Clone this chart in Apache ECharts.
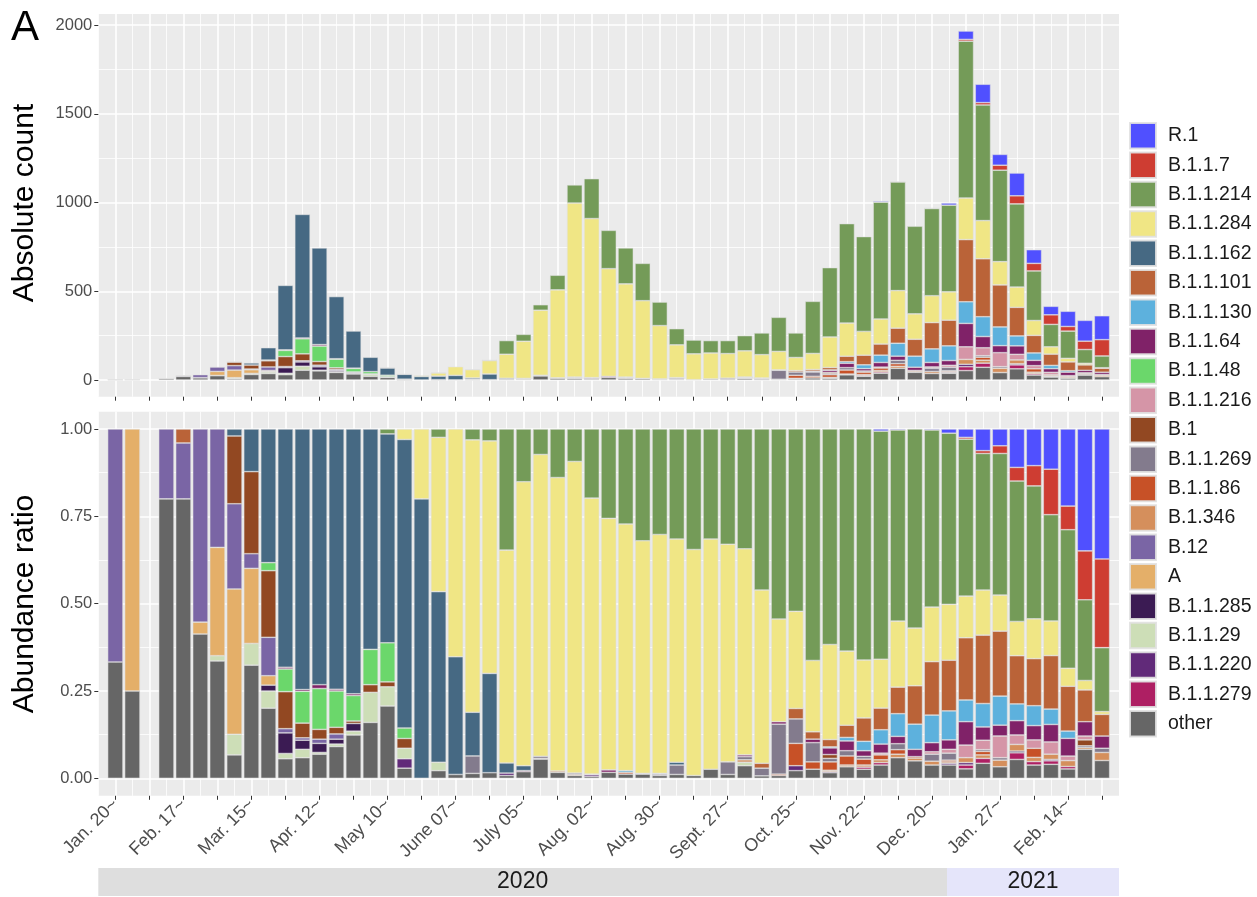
<!DOCTYPE html>
<html>
<head>
<meta charset="utf-8">
<script src="https://cdn.jsdelivr.net/npm/echarts@6/dist/echarts.min.js"></script>
</head>
<body style="margin:0;background:#ffffff">
<div id="main" style="width:1257px;height:897px"></div>
<script>
// weekly bars, Jan 20 2020 .. late Feb 2021 (week 2 has no samples)
var tickLabels = ['Jan. 20~', 'Feb. 17~', 'Mar. 15~', 'Apr. 12~', 'May 10~', 'June 07~', 'July 05~',
  'Aug. 02~', 'Aug. 30~', 'Sept. 27~', 'Oct. 25~', 'Nov. 22~', 'Dec. 20~', 'Jan. 27~', 'Feb. 14~'];

// total sequences per week (upper panel)
var totals = [3, 4, null, 10, 25, 30, 73, 103, 96, 182,
  533, 933, 744, 470, 276, 128, 69, 33, 25, 41,
  75, 60, 113, 222, 257, 424, 590, 1099, 1134, 843,
  744, 657, 439, 289, 225, 222, 222, 250, 265, 353,
  265, 443, 633, 881, 808, 1008, 1119, 866, 969, 997,
  1966, 1666, 1271, 1166, 734, 415, 387, 336, 362];

// share of each lineage per week, percent (lower panel)
var pOther = [33.3, 25, 0, 80, 80, 41.3, 33.6, 6.7, 32.4, 20.1,
  5.6, 5.9, 6.9, 9.1, 12.4, 16.0, 20.7, 2.9, 0, 2.2,
  1.1, 1.4, 1.6, 0.8, 1.9, 5.5, 1.7, 0.8, 0.5, 1.7,
  1.2, 1.2, 0.8, 1.1, 0.8, 2.6, 1.1, 3.6, 0.7, 0.8,
  2.2, 2.6, 1.6, 3.3, 2.6, 3.8, 5.9, 5.0, 3.8, 3.8,
  2.7, 4.3, 3.3, 5.4, 3.8, 4.0, 2.7, 8.3, 5.1];
var pB11279 = [0, 0, 0, 0, 0, 0, 0, 0, 0, 0,
  0, 0, 0, 0, 0, 0, 0, 0, 0, 0,
  0, 0, 0, 0, 0, 0, 0, 0, 0, 0,
  0, 0, 0, 0, 0, 0, 0, 0, 0, 0,
  0, 0, 0, 0, 0.6, 0.7, 0, 0, 0, 0,
  1.1, 1.4, 0, 1.9, 1.0, 1.0, 0.7, 0, 0];
var pB11220 = [0, 0, 0, 0, 0, 0, 0, 0, 0, 0,
  0, 0, 0, 0, 0, 0, 0, 2.7, 0, 0,
  0, 0, 0, 0.7, 0, 0, 0, 0, 0.5, 0,
  0, 0, 0, 0, 0, 0, 0, 0, 0, 0,
  1.4, 0, 0.3, 0, 0, 0, 0, 0, 0, 0.5,
  0.7, 0, 0, 0, 0, 0.4, 0, 0, 0];
var pB1129 = [0, 0, 0, 0, 0, 0, 1.5, 5.9, 6.2, 4.9,
  1.5, 2.4, 0.5, 0.7, 1.1, 8.6, 5.5, 3.0, 0, 2.4,
  0, 0, 0, 0, 0, 0, 0, 0, 0, 0,
  0, 0, 0, 0, 0, 0, 0, 1.0, 0, 0,
  0, 0, 0, 0, 0, 0, 0, 0, 0, 0,
  0, 0, 0, 0, 0, 0, 0, 0, 0];
var pB11285 = [0, 0, 0, 0, 0, 0, 0, 0, 0, 1.7,
  5.9, 2.6, 2.6, 1.4, 2.2, 0, 0, 0, 0, 0,
  0, 0, 0, 0, 0, 0, 0, 0, 0, 0,
  0, 0, 0, 0, 0, 0, 0, 0, 0, 0,
  0, 0, 0, 0, 0, 0, 0, 0, 0, 0,
  0, 0, 0, 0.5, 0, 0, 0, 0, 0];
var pA = [0, 75, 0, 0, 0, 3.4, 31, 41.6, 21.5, 2.7,
  0, 0, 0, 0, 0, 0, 0, 0, 0, 0,
  0, 0, 0, 0, 0, 0, 0, 0, 0, 0,
  0, 0, 0, 0, 0, 0, 0, 0, 0, 0,
  0, 0, 0, 0, 0, 0, 0, 0, 0, 0,
  0, 0, 0, 0, 0, 0, 0, 0, 0];
var pB12 = [66.7, 0, 0, 20, 16, 55.3, 33.9, 24.4, 4.2, 11.0,
  1.2, 0.7, 1.2, 1.5, 0, 0, 0, 0, 0, 0,
  0, 0, 0, 0, 0, 0, 0, 0, 0, 0,
  0, 0, 0, 0, 0, 0, 0, 0, 0, 0,
  0, 0, 0, 0, 0, 0, 0, 0, 0, 0,
  0, 0, 0, 0, 0, 0, 0, 0, 0];
var pB1346 = [0, 0, 0, 0, 0, 0, 0, 0, 0, 0,
  0, 0, 0, 0, 0, 0, 0, 0, 0, 0,
  0, 0, 0, 0, 0, 0.2, 0.4, 0.3, 0.2, 0,
  0, 0, 0, 0, 0, 0, 0, 0.7, 0, 0,
  0, 0, 0.4, 0.5, 0.6, 0.8, 1.0, 0.8, 1.1, 0.4,
  1.4, 1.0, 1.9, 1.9, 1.2, 1.5, 1.7, 0.5, 2.3];
var pB1186 = [0, 0, 0, 0, 0, 0, 0, 0, 0, 0,
  0, 0, 0, 0, 0, 0, 0, 0, 0, 0,
  0, 0, 0, 0, 0, 0, 0, 0, 0, 0,
  0.5, 0, 0, 0, 0, 0, 0, 0, 0, 0.4,
  6.4, 2.1, 2.4, 2.6, 1.7, 1.4, 1.3, 0.4, 0, 0.5,
  0, 1.0, 0, 0, 2.6, 0, 0, 0, 0];
var pB11269 = [0, 0, 0, 0, 0, 0, 0, 0, 0, 0,
  0, 0, 0, 0, 0, 0, 0, 0, 0, 0,
  0, 5.0, 0, 0, 0, 0.6, 0, 0.4, 0, 0,
  0, 0.2, 0.4, 2.7, 0, 0, 3.6, 0.9, 2.2, 14.3,
  7.0, 5.5, 1.0, 1.5, 0.8, 0, 1.7, 0, 2.0, 2.0,
  0, 0.5, 0.7, 0, 0, 0, 0, 0.5, 1.2];
var pB1 = [0, 0, 0, 0, 0, 0, 0, 19.4, 23.5, 19.1,
  10.6, 4.2, 2.8, 1.9, 0.7, 2.2, 1.4, 2.8, 0, 0,
  0, 0, 0, 0, 0, 0, 0, 0, 0, 0,
  0, 0, 0, 0, 0, 0, 0, 0, 0, 0,
  0, 0, 1.1, 0, 0, 0, 0, 0, 0, 0,
  0, 0, 0, 0, 0, 0, 0, 1.7, 0];
var pB11216 = [0, 0, 0, 0, 0, 0, 0, 0, 0, 0,
  0, 0, 0, 0, 0, 0, 0, 0, 0, 0,
  0, 0, 0, 0, 0, 0, 0, 0, 0, 0,
  0, 0, 0, 0, 0, 0, 0, 0, 0, 0,
  0, 0, 0, 0, 0, 0.5, 0, 0, 0.7, 1.1,
  3.6, 2.7, 6.2, 2.7, 2.4, 3.5, 1.3, 1.1, 0];
var pB1148 = [0, 0, 0, 0, 0, 0, 0, 0, 0, 2.3,
  6.5, 9.1, 11.7, 10.4, 7.3, 10.1, 11.2, 3.0, 0, 0,
  0, 0, 0, 0, 0, 0, 0, 0, 0, 0,
  0, 0, 0, 0, 0, 0, 0, 0, 0, 0,
  0, 0, 0, 0, 0, 0, 0, 0, 0, 0,
  0, 0, 0, 0, 0, 0, 0, 0, 0];
var pB1164 = [0, 0, 0, 0, 0, 0, 0, 0, 0, 0,
  0.5, 0.5, 1.1, 0.5, 0.5, 0, 0, 0, 0, 0,
  0, 0, 0, 0, 0.3, 0, 0, 0, 0, 0.7,
  0, 0, 0, 0, 0, 0, 0, 0.5, 0, 0.7,
  0, 1.0, 1.9, 2.8, 1.6, 2.6, 2.1, 2.1, 2.6, 2.7,
  6.7, 3.8, 3.1, 4.1, 4.1, 5.0, 5.1, 4.1, 3.5];
var pB11130 = [0, 0, 0, 0, 0, 0, 0, 0, 0, 0,
  0, 0, 0, 0, 0, 0, 0, 0, 0, 0,
  0, 0, 0, 0, 0, 0, 0, 0, 0, 0,
  0.5, 0, 0.2, 0, 0, 0, 0, 0, 0, 0,
  0, 0, 0.3, 1.0, 2.7, 4.1, 6.5, 7.2, 7.9, 8.3,
  6.2, 6.7, 8.3, 4.8, 5.7, 4.4, 2.1, 0, 0];
var pB11101 = [0, 0, 0, 0, 4, 0, 0, 0, 0, 0,
  0, 0, 0, 0, 0, 0, 0, 0, 0, 0,
  0, 0, 0, 0, 0, 0, 0, 0, 0, 0,
  0, 0, 0, 0, 0, 0, 0, 0, 1.4, 0,
  3.0, 2.1, 2.1, 3.5, 6.7, 6.2, 7.6, 11.0, 15.3, 14.5,
  17.8, 19.6, 18.6, 13.8, 13.5, 15.3, 12.9, 9.1, 6.2];
var pB11162 = [0, 0, 0, 0, 0, 0, 0, 2.0, 12.2, 38.3,
  68.2, 74.6, 73.2, 74.5, 75.8, 63.1, 59.8, 82.6, 80, 48.9,
  33.7, 12.5, 28.4, 2.9, 1.4, 0, 0, 0, 0, 0,
  0, 0, 0, 0.8, 0, 0, 0, 0, 0, 0,
  0, 0, 0, 0, 0, 0, 0, 0, 0, 0,
  0, 0, 0, 0, 0, 0, 0, 0, 0];
var pB11284 = [0, 0, 0, 0, 0, 0, 0, 0, 0, 0,
  0, 0, 0, 0, 0, 0, 0, 3.0, 20, 44.2,
  65.2, 78, 66.5, 61.0, 81.3, 86.4, 84.0, 89.2, 79.0, 72.0,
  70.6, 66.6, 68.4, 63.9, 64.7, 65.9, 62.3, 59.0, 49.6, 29.4,
  27.8, 20.4, 27.2, 21.2, 16.6, 14.0, 18.9, 16.5, 15.6, 16.0,
  11.9, 12.9, 10.3, 9.8, 11.4, 9.9, 5.2, 2.7, 0.8];
var pB11214 = [0, 0, 0, 0, 0, 0, 0, 0, 0, 0,
  0, 0, 0, 0, 0, 0, 1.4, 0, 0, 2.4,
  0, 3.1, 3.4, 34.7, 15.1, 7.3, 13.9, 9.3, 19.8, 25.6,
  27.2, 32.0, 30.2, 31.5, 34.5, 31.5, 33.0, 34.3, 46.1, 54.4,
  52.2, 66.2, 61.7, 63.6, 66.2, 65.3, 54.7, 57.0, 50.7, 49.0,
  44.9, 39.1, 40.5, 40.2, 38.1, 30.4, 39.9, 23.1, 18.3];
var pB117 = [0, 0, 0, 0, 0, 0, 0, 0, 0, 0,
  0, 0, 0, 0, 0, 0, 0, 0, 0, 0,
  0, 0, 0, 0, 0, 0, 0, 0, 0, 0,
  0, 0, 0, 0, 0, 0, 0, 0, 0, 0,
  0, 0, 0, 0, 0, 0, 0, 0, 0, 0,
  0.5, 0.8, 2.2, 3.9, 5.8, 13.0, 6.8, 14.0, 25.4];
var pR1 = [0, 0, 0, 0, 0, 0, 0, 0, 0, 0,
  0, 0, 0, 0, 0, 0, 0, 0, 0, 0,
  0, 0, 0, 0, 0, 0, 0, 0, 0, 0,
  0, 0, 0, 0, 0, 0, 0, 0, 0, 0,
  0, 0, 0, 0, 0, 0.6, 0.3, 0, 0.3, 1.2,
  2.4, 6.2, 4.8, 11.0, 10.5, 11.5, 22.2, 34.9, 37.2];

// stacking order, bottom to top
var lineages = ['other', 'B.1.1.279', 'B.1.1.220', 'B.1.1.29', 'B.1.1.285', 'A', 'B.12', 'B.1.346',
  'B.1.1.86', 'B.1.1.269', 'B.1', 'B.1.1.216', 'B.1.1.48', 'B.1.1.64', 'B.1.1.130', 'B.1.1.101',
  'B.1.1.162', 'B.1.1.284', 'B.1.1.214', 'B.1.1.7', 'R.1'];
var shares = [pOther, pB11279, pB11220, pB1129, pB11285, pA, pB12, pB1346, pB1186, pB11269, pB1,
  pB11216, pB1148, pB1164, pB11130, pB11101, pB11162, pB11284, pB11214, pB117, pR1];
var colors = ['#666666', '#AE1F63', '#612A79', '#CDDEB7', '#3B1B53', '#E4AF69', '#7A65A5', '#D58F5C',
  '#C75127', '#837B8D', '#924822', '#D595A7', '#6BD76B', '#802268', '#5DB1DD', '#BA6338',
  '#466983', '#F0E685', '#749B58', '#CE3D32', '#5050FF'];

var nWeeks = totals.length;
// one empty slot each side so the panel is padded by one week
var cats = ['pad0'];
for (var i = 0; i < nWeeks; i++) cats.push('w' + i);
cats.push('pad1');

var weekSum = [];
for (var i = 0; i < nWeeks; i++) {
  var s = 0;
  for (var k = 0; k < shares.length; k++) s += shares[k][i];
  weekSum.push(s);
}

function isMajor(idx) { return idx >= 1 && idx <= nWeeks && (idx - 1) % 2 === 0; }
function isMinor(idx) { return !isMajor(idx); }
function hasLabel(idx) { return idx >= 1 && (idx - 1) % 4 === 0 && (idx - 1) / 4 < tickLabels.length; }

var series = [];
for (var k = 0; k < lineages.length; k++) {
  var abs = [null], rat = [null];
  for (var i = 0; i < nWeeks; i++) {
    var p = shares[k][i];
    if (!p || !totals[i]) { abs.push(null); rat.push(null); continue; }
    abs.push(p / weekSum[i] * totals[i]);
    rat.push(p / weekSum[i]);
  }
  abs.push(null); rat.push(null);
  var st = {color: colors[k], borderColor: 'rgba(225,225,225,0.9)', borderWidth: 0.6};
  series.push({name: lineages[k], type: 'bar', stack: 'abs', xAxisIndex: 2, yAxisIndex: 1,
    barWidth: '90%', itemStyle: st, data: abs});
  series.push({name: lineages[k], type: 'bar', stack: 'ratio', xAxisIndex: 5, yAxisIndex: 3,
    barWidth: '90%', itemStyle: st, data: rat});
}

var PL = 98.3, PR = 1257 - 1119;
var font = "'Liberation Sans', Arial, sans-serif";
var tickStyle = {show: true, length: 4, lineStyle: {color: '#333333', width: 1}};

function panelAxes(gridIndex, withLabels) {
  return [
    {type: 'category', gridIndex: gridIndex, data: cats, boundaryGap: false, position: 'bottom',
      axisLine: {show: false},
      axisTick: {show: true, interval: isMajor, length: 4, lineStyle: {color: '#333333'}},
      axisLabel: withLabels ? {show: true, interval: hasLabel, rotate: 45, margin: 6, fontSize: 18,
        color: '#4D4D4D', fontFamily: font,
        formatter: function (v, idx) { return tickLabels[(idx - 1) / 4]; }} : {show: false},
      splitLine: {show: true, interval: isMajor, lineStyle: {color: '#ffffff', width: 1.6}}},
    {type: 'category', gridIndex: gridIndex, data: cats, boundaryGap: false, position: 'top',
      axisLine: {show: false}, axisTick: {show: false}, axisLabel: {show: false},
      splitLine: {show: true, interval: isMinor, lineStyle: {color: '#ffffff', width: 0.8}}}
  ];
}
function dataXAxis(gridIndex) {
  return {type: 'category', gridIndex: gridIndex, data: cats, boundaryGap: false, show: false};
}

var xAxes = [].concat(panelAxes(0, false), [dataXAxis(1)], panelAxes(2, true), [dataXAxis(3)]);

var yAxes = [
  {type: 'value', gridIndex: 0, show: false, min: 0, max: 1},
  {type: 'value', gridIndex: 1, min: 0, max: 2000, interval: 500,
    axisLine: {show: false}, axisTick: tickStyle,
    axisLabel: {fontSize: 16.5, color: '#4D4D4D', margin: 6, fontFamily: font,
      formatter: function (v) { return String(v); }},
    splitLine: {show: true, lineStyle: {color: '#ffffff', width: 1.6}},
    minorTick: {show: false, splitNumber: 2},
    minorSplitLine: {show: true, lineStyle: {color: '#ffffff', width: 0.8}}},
  {type: 'value', gridIndex: 2, show: false, min: 0, max: 1},
  {type: 'value', gridIndex: 3, min: 0, max: 1, interval: 0.25,
    axisLine: {show: false}, axisTick: tickStyle,
    axisLabel: {fontSize: 16.5, color: '#4D4D4D', margin: 6, fontFamily: font,
      formatter: function (v) { return v.toFixed(2); }},
    splitLine: {show: true, lineStyle: {color: '#ffffff', width: 1.6}},
    minorTick: {show: false, splitNumber: 2},
    minorSplitLine: {show: true, lineStyle: {color: '#ffffff', width: 0.8}}}
];

var legendNames = lineages.slice().reverse();

var option = {
  animation: false,
  textStyle: {fontFamily: font},
  grid: [
    {left: PL, right: PR, top: 14, height: 382.7, show: true, backgroundColor: '#EBEBEB', borderWidth: 0},
    {left: PL, right: PR, top: 25, height: 355},
    {left: PL, right: PR, top: 411.7, height: 384.1, show: true, backgroundColor: '#EBEBEB', borderWidth: 0},
    {left: PL, right: PR, top: 429, height: 349.3}
  ],
  xAxis: xAxes,
  yAxis: yAxes,
  legend: {
    data: legendNames, orient: 'vertical', left: 1129, top: 122, padding: 0,
    itemWidth: 26, itemHeight: 25.5, itemGap: 1.9, icon: 'rect', selectedMode: false,
    textStyle: {fontSize: 19.5, color: '#1A1A1A', fontFamily: font, padding: [0, 0, 0, 7]}
  },
  graphic: [
    {type: 'text', left: 11, top: 7, style: {text: 'A', fontSize: 42, fill: '#000', fontFamily: font}},
    {type: 'text', x: 25, y: 203, rotation: Math.PI / 2,
      style: {text: 'Absolute count', fontSize: 30, fill: '#000', fontFamily: font, align: 'center', verticalAlign: 'middle'}},
    {type: 'text', x: 25, y: 604, rotation: Math.PI / 2,
      style: {text: 'Abundance ratio', fontSize: 30, fill: '#000', fontFamily: font, align: 'center', verticalAlign: 'middle'}},
    {type: 'rect', shape: {x: 98.3, y: 868, width: 947 - 98.3, height: 28}, style: {fill: '#DEDEDE'}},
    {type: 'rect', shape: {x: 947, y: 868, width: 1119 - 947, height: 28}, style: {fill: '#E5E5FA'}},
    {type: 'text', x: (98.3 + 947) / 2, y: 882,
      style: {text: '2020', fontSize: 23, fill: '#1A1A1A', fontFamily: font, align: 'center', verticalAlign: 'middle'}},
    {type: 'text', x: (947 + 1119) / 2, y: 882,
      style: {text: '2021', fontSize: 23, fill: '#1A1A1A', fontFamily: font, align: 'center', verticalAlign: 'middle'}}
  ],
  series: series
};

var chart = echarts.init(document.getElementById('main'), null, {renderer: 'canvas'});
chart.setOption(option);
</script>
</body>
</html>
